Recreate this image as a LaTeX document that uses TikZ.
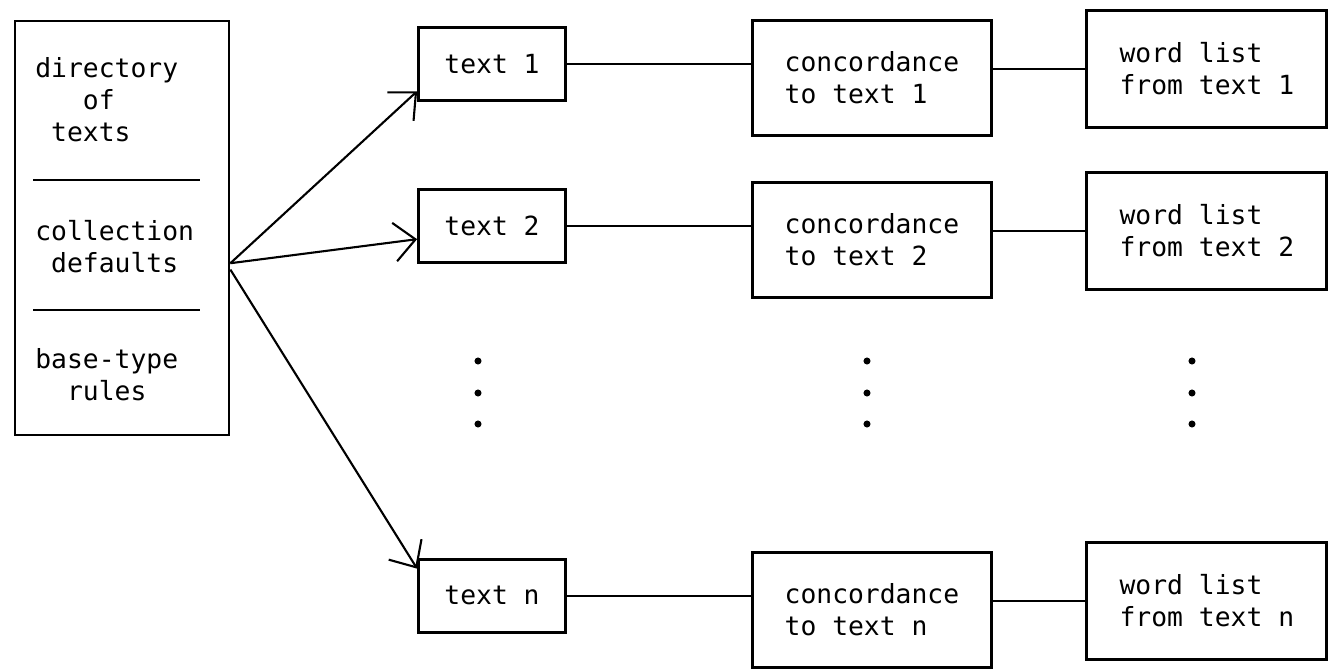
\documentclass[tikz,border=0pt]{standalone}
\usepackage{fontspec}
\setmonofont{DejaVu Sans Mono}
\usetikzlibrary{arrows.meta}

\begin{document}
\begin{tikzpicture}[x=0.02cm,y=-0.02cm,>={Straight Barb[length=12pt,width=22pt]},node distance=7.6cm,
                        box/.style={draw,line width=1.6pt,inner sep=0pt,align=left,font=\ttfamily\fontsize{15}{18.2}\selectfont},
                        text box/.style={box,minimum width=2.94cm,minimum height=1.46cm},
                        conc box/.style={box,minimum width=4.78cm,minimum height=2.3cm,yshift=-0.28cm},
                        word box/.style={box,minimum width=4.8cm,minimum height=2.34cm,yshift=0.18cm},
                        part/.style={inner sep=0pt,align=left,anchor=north west,font=\ttfamily\fontsize{15}{18.2}\selectfont},
                        wire/.style={line width=1pt}]

      \useasboundingbox (0,0) rectangle (1329,669);

      \node[box,minimum width=4.28cm,minimum height=8.28cm] (1) at (122,228) {};
      \node[part] (1a) at (35,57) {directory\\\hphantom{dir}of\\\hphantom{d}texts};
      \node[part] (1b) at (35,220) {collection\\\hphantom{c}defaults};
      \node[part] (1c) at (35,348) {base-type\\\hphantom{ba}rules};
      \draw[wire] (33,180) -- (200,180);
      \draw[wire] (33,310) -- (200,310);

      \node[text box] (2) at (492,64) {text 1};
      \node[conc box] (3) [right of=2] {concordance\\to text 1};
      \node[word box] (4) [right of=3,node distance=6.7cm] {word list\\from text 1};
      \node[text box] (5) [below of=2,node distance=3.24cm] {text 2};
      \node[conc box] (6) [right of=5] {concordance\\to text 2};
      \node[word box] (7) [right of=6,node distance=6.7cm] {word list\\from text 2};
      \node[text box] (8) [below of=5,node distance=7.4cm] {text n};
      \node[conc box] (9) [right of=8] {concordance\\to text n};
      \node[word box] (10) [right of=9,node distance=6.7cm] {word list\\from text n};

      \path[wire]
        (2) edge (2 -| 3.west)
        (4 -| 3.east) edge (4)
        (5) edge (5 -| 6.west)
        (7 -| 6.east) edge (7)
        (8) edge (8 -| 9.west)
        (10 -| 9.east) edge (10);

      \path[->,line width=1.2pt]
        (1.342) edge (2.200)
        (1.342) edge (5.190)
        (1.339) edge (8.160);

      \foreach \x in {478,867,1192}
        \foreach \y in {361,393,424}
          \fill (\x,\y) circle (2pt);
    \end{tikzpicture}
\end{document}
